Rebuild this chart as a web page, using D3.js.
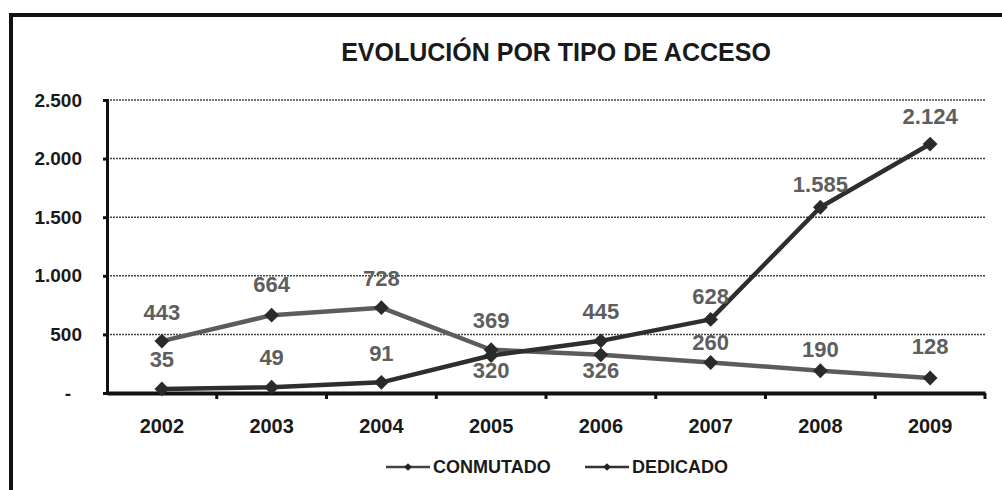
<!DOCTYPE html>
<html><head><meta charset="utf-8">
<script src="https://cdn.jsdelivr.net/npm/d3@7"></script>
<style>body{margin:0;background:#fff;}svg{display:block;font-family:"Liberation Sans",Arial,sans-serif;}</style>
</head><body><svg id="c" width="1002" height="490"></svg>
<script>
const years = ["2002","2003","2004","2005","2006","2007","2008","2009"];
const conmutado = [443, 664, 728, 369, 326, 260, 190, 128];
const dedicado = [35, 49, 91, 320, 445, 628, 1585, 2124];
const yTicks = [0, 500, 1000, 1500, 2000, 2500];
const title = "EVOLUCIÓN POR TIPO DE ACCESO";
// label vertical offsets (px, negative = above)
const conmutadoLabelDy = [-29, -31, -30, -30, 15, -20, -22, -32];
const dedicadoLabelDy = [-30, -30, -29, 15, -30, -23, -23, -28];

const fmt = v => v === 0 ? "-" : d3.format(",")(v).replace(/,/g, ".");
const svg = d3.select("#c");
const m = {l:107, r:985, t:100, b:393};
const x = d3.scaleBand().domain(years).range([m.l, m.r]);
const y = d3.scaleLinear().domain([0, 2500]).range([m.b, m.t]);
const FF = "'Liberation Sans',Arial,sans-serif";

// frame
svg.append("rect").attr("x",11).attr("y",15).attr("width",1010).attr("height",500)
  .attr("fill","none").attr("stroke","#111").attr("stroke-width",4);

svg.append("text").attr("x",556).attr("y",61).attr("text-anchor","middle")
  .attr("font-size",25).attr("font-weight","bold").attr("fill","#1a1a1a").text(title);

// gridlines
svg.append("g").selectAll("line").data(yTicks.filter(t=>t>0)).join("line")
  .attr("x1",m.l).attr("x2",m.r).attr("y1",d=>y(d)).attr("y2",d=>y(d))
  .attr("stroke","#444").attr("stroke-width",1.5).attr("stroke-dasharray","2,1");

// y axis
const ya = svg.append("g").attr("transform",`translate(${m.l},0)`)
  .call(d3.axisLeft(y).tickValues(yTicks).tickSize(4).tickPadding(21).tickFormat(fmt));
ya.select(".domain").attr("stroke","#111").attr("stroke-width",3);
ya.selectAll(".tick line").attr("stroke","#111").attr("stroke-width",3);
ya.selectAll("text").attr("font-size",19).attr("font-weight","bold").attr("fill","#1a1a1a")
  .attr("font-family",FF).attr("dx",d=>d===0?-11:0);

// x axis
const xa = svg.append("g").attr("transform",`translate(0,${m.b})`)
  .call(d3.axisBottom(x).tickSize(0).tickPadding(26));
xa.select(".domain").attr("stroke","#111").attr("stroke-width",4);
xa.selectAll("text").attr("font-size",20).attr("font-weight","bold").attr("fill","#1a1a1a")
  .attr("font-family",FF);
svg.append("g").selectAll("line").data(years.slice(1).concat(["end"])).join("line")
  .attr("x1",(d,i)=>i<years.length-1? x(d): m.r).attr("x2",(d,i)=>i<years.length-1? x(d): m.r)
  .attr("y1",m.b).attr("y2",m.b+6).attr("stroke","#111").attr("stroke-width",3);

const cx = d => x(d) + x.bandwidth()/2;
const line = d3.line().x((d,i)=>cx(years[i])).y(d=>y(d));
const diamond = d3.symbol().type(d3.symbolSquare).size(110);

function series(vals, color, mcol, dys){
  svg.append("path").datum(vals).attr("d",line).attr("fill","none")
    .attr("stroke",color).attr("stroke-width",4.5).attr("stroke-linejoin","round");
  svg.append("g").selectAll("path").data(vals).join("path")
    .attr("d",diamond).attr("transform",(d,i)=>`translate(${cx(years[i])},${y(d)}) rotate(45)`)
    .attr("fill",mcol);
  svg.append("g").selectAll("text").data(vals).join("text")
    .attr("x",(d,i)=>cx(years[i])).attr("y",(d,i)=>y(d)+dys[i])
    .attr("text-anchor","middle").attr("dy","0.36em")
    .attr("font-size",22).attr("font-weight","bold").attr("fill","#5e5e5e").text(fmt);
}
series(conmutado, "#5c5c5c", "#2a2a2a", conmutadoLabelDy);
series(dedicado, "#2e2e2e", "#2a2a2a", dedicadoLabelDy);

// legend
const lg = [{n:"CONMUTADO", x:386, c:"#444"},{n:"DEDICADO", x:585, c:"#333"}];
const g = svg.append("g").selectAll("g").data(lg).join("g").attr("transform",d=>`translate(${d.x},467)`);
g.append("line").attr("x1",0).attr("x2",44).attr("stroke",d=>d.c).attr("stroke-width",2.5);
g.append("path").attr("d",d3.symbol().type(d3.symbolSquare).size(30)).attr("transform","translate(22,0) rotate(45)").attr("fill","#222");
g.append("text").attr("x",47).attr("dy","0.36em").attr("font-size",18).attr("font-weight","bold")
  .attr("fill","#1a1a1a").text(d=>d.n);
</script></body></html>
